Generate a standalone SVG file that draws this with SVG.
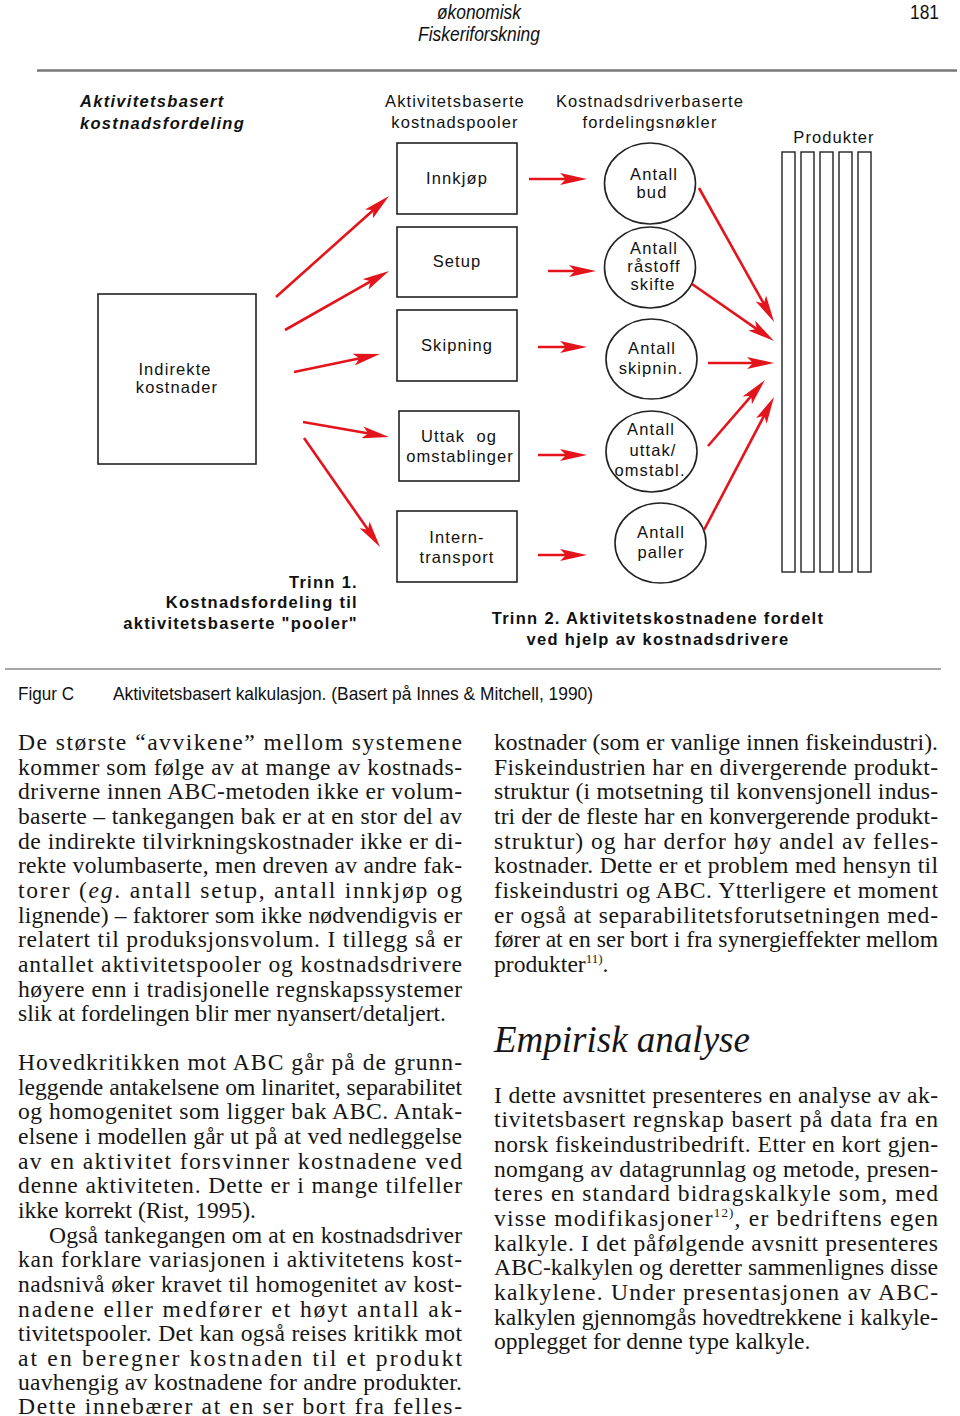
<svg xmlns="http://www.w3.org/2000/svg" width="960" height="1416" viewBox="0 0 960 1416">
<style>
.hdr{font-family:"Liberation Sans",Arial,sans-serif;font-size:20px;fill:#111}
.lbl{font-family:"Liberation Sans",Arial,sans-serif;font-size:16.5px;letter-spacing:1.1px;fill:#111}
.bld{font-family:"Liberation Sans",Arial,sans-serif;font-size:16.5px;font-weight:bold;letter-spacing:1.3px;fill:#111}
.cap{font-family:"Liberation Sans",Arial,sans-serif;font-size:19px;fill:#111}
.body{font-family:"Liberation Serif","Times New Roman",serif;font-size:23.6px;fill:#161616}
.box{fill:#fff;stroke:#222;stroke-width:1.6}
.bar{fill:#fff;stroke:#222;stroke-width:1.4}
.arr{stroke:#e3141b;stroke-width:2.6;fill:none;marker-end:url(#ah)}
.sup{font-size:13px}
</style>
<defs>
<marker id="ah" markerUnits="userSpaceOnUse" viewBox="0 0 27 12" markerWidth="27" markerHeight="12" refX="14" refY="6" orient="auto">
<path d="M0,0 L27,6 L0,12 L6,6 z" fill="#e3141b"/>
</marker>
</defs>
<rect width="960" height="1416" fill="#fff"/>

<g id="header">
<text class="hdr" x="479" y="19" text-anchor="middle" font-style="italic" textLength="84" lengthAdjust="spacingAndGlyphs">økonomisk</text>
<text class="hdr" x="479" y="41" text-anchor="middle" font-style="italic" textLength="122" lengthAdjust="spacingAndGlyphs">Fiskeriforskning</text>
<text class="hdr" x="910" y="19" textLength="29" lengthAdjust="spacingAndGlyphs">181</text>
<line x1="37" y1="70.5" x2="957" y2="70.5" stroke="#777" stroke-width="2.5"/>
</g>

<g id="titles">
<text class="bld" x="80" y="107" font-style="italic">Aktivitetsbasert</text>
<text class="bld" x="80" y="129" font-style="italic">kostnadsfordeling</text>
<text class="lbl" x="455" y="107" text-anchor="middle">Aktivitetsbaserte</text>
<text class="lbl" x="455" y="128" text-anchor="middle">kostnadspooler</text>
<text class="lbl" x="650" y="107" text-anchor="middle">Kostnadsdriverbaserte</text>
<text class="lbl" x="650" y="128" text-anchor="middle">fordelingsnøkler</text>
<text class="lbl" x="834" y="143" text-anchor="middle">Produkter</text>
</g>

<g id="indirekte">
<rect class="box" x="98" y="294" width="158" height="170"/>
<text class="lbl" x="175" y="375" text-anchor="middle">Indirekte</text>
<text class="lbl" x="177" y="393" text-anchor="middle">kostnader</text>
</g>

<g id="innkjop">
<rect class="box" x="397" y="143" width="120" height="71"/>
<text class="lbl" x="457" y="184" text-anchor="middle">Innkjøp</text>
</g>
<g id="setup">
<rect class="box" x="397" y="227" width="120" height="70"/>
<text class="lbl" x="457" y="267" text-anchor="middle">Setup</text>
</g>
<g id="skipning">
<rect class="box" x="397" y="310" width="120" height="71"/>
<text class="lbl" x="457" y="351" text-anchor="middle">Skipning</text>
</g>
<g id="uttak">
<rect class="box" x="399" y="411" width="120" height="70"/>
<text class="lbl" x="459" y="442" text-anchor="middle" xml:space="preserve">Uttak  og</text>
<text class="lbl" x="460" y="462" text-anchor="middle">omstablinger</text>
</g>
<g id="interntransport">
<rect class="box" x="397" y="511" width="120" height="71"/>
<text class="lbl" x="457" y="543" text-anchor="middle">Intern-</text>
<text class="lbl" x="457" y="563" text-anchor="middle">transport</text>
</g>

<g id="antall-bud">
<ellipse class="box" cx="650" cy="183.5" rx="45.5" ry="40.5"/>
<text class="lbl" x="654" y="180" text-anchor="middle">Antall</text>
<text class="lbl" x="652" y="198" text-anchor="middle">bud</text>
</g>
<g id="antall-rastoff">
<ellipse class="box" cx="650" cy="267.5" rx="45.5" ry="40.5"/>
<text class="lbl" x="654" y="254" text-anchor="middle">Antall</text>
<text class="lbl" x="654" y="272" text-anchor="middle">råstoff</text>
<text class="lbl" x="653" y="290" text-anchor="middle">skifte</text>
</g>
<g id="antall-skipnin">
<ellipse class="box" cx="651.5" cy="359" rx="45.5" ry="40"/>
<text class="lbl" x="652" y="354" text-anchor="middle">Antall</text>
<text class="lbl" x="651" y="374" text-anchor="middle">skipnin.</text>
</g>
<g id="antall-uttak">
<ellipse class="box" cx="651.5" cy="451.5" rx="45.5" ry="40.5"/>
<text class="lbl" x="651" y="435" text-anchor="middle">Antall</text>
<text class="lbl" x="653" y="456" text-anchor="middle">uttak/</text>
<text class="lbl" x="650" y="476" text-anchor="middle">omstabl.</text>
</g>
<g id="antall-paller">
<ellipse class="box" cx="660.5" cy="543" rx="45.5" ry="40"/>
<text class="lbl" x="661" y="538" text-anchor="middle">Antall</text>
<text class="lbl" x="661" y="558" text-anchor="middle">paller</text>
</g>

<g id="produkter">
<rect class="bar" x="782" y="152" width="13" height="420"/>
<rect class="bar" x="801" y="152" width="13" height="420"/>
<rect class="bar" x="820" y="152" width="13" height="420"/>
<rect class="bar" x="839" y="152" width="13" height="420"/>
<rect class="bar" x="858" y="152" width="13" height="420"/>
</g>

<g id="connectors">
<line class="arr" x1="276" y1="297" x2="379.3" y2="204.7"/>
<line class="arr" x1="285" y1="330" x2="377.7" y2="277.4"/>
<line class="arr" x1="294" y1="372" x2="367.3" y2="356.7"/>
<line class="arr" x1="303" y1="422" x2="376.2" y2="434.8"/>
<line class="arr" x1="304" y1="438" x2="372.6" y2="536.3"/>
<line class="arr" x1="529" y1="179" x2="574" y2="179"/>
<line class="arr" x1="548" y1="271" x2="583" y2="271"/>
<line class="arr" x1="538" y1="347" x2="574" y2="347"/>
<line class="arr" x1="538" y1="455" x2="574" y2="455"/>
<line class="arr" x1="538" y1="555" x2="574" y2="555"/>
<line class="arr" x1="699" y1="188" x2="767.7" y2="310.7"/>
<line class="arr" x1="692" y1="284" x2="763.3" y2="333.6"/>
<line class="arr" x1="708" y1="363" x2="761" y2="363"/>
<line class="arr" x1="708" y1="446" x2="756.5" y2="389.8"/>
<line class="arr" x1="704" y1="530" x2="767.9" y2="408.5"/>
</g>

<g id="trinn1">
<text class="bld" x="358" y="588" text-anchor="end">Trinn 1.</text>
<text class="bld" x="358" y="608" text-anchor="end">Kostnadsfordeling til</text>
<text class="bld" x="358" y="629" text-anchor="end">aktivitetsbaserte "pooler"</text>
</g>
<g id="trinn2">
<text class="bld" x="658" y="624" text-anchor="middle">Trinn 2. Aktivitetskostnadene fordelt</text>
<text class="bld" x="658" y="645" text-anchor="middle">ved hjelp av kostnadsdrivere</text>
</g>

<line x1="5" y1="669" x2="941" y2="669" stroke="#888" stroke-width="1.5"/>

<g id="caption">
<text class="cap" x="18" y="700" textLength="56" lengthAdjust="spacingAndGlyphs">Figur C</text>
<text class="cap" x="113" y="700" textLength="480" lengthAdjust="spacingAndGlyphs">Aktivitetsbasert kalkulasjon. (Basert på Innes &amp; Mitchell, 1990)</text>
</g>

<g id="left-column" class="body">
<text x="18" y="750" textLength="444" lengthAdjust="spacing">De største “avvikene” mellom systemene</text>
<text x="18" y="775" textLength="444" lengthAdjust="spacing">kommer som følge av at mange av kostnads-</text>
<text x="18" y="799" textLength="444" lengthAdjust="spacing">driverne innen ABC-metoden ikke er volum-</text>
<text x="18" y="824" textLength="444" lengthAdjust="spacing">baserte – tankegangen bak er at en stor del av</text>
<text x="18" y="849" textLength="444" lengthAdjust="spacing">de indirekte tilvirkningskostnader ikke er di-</text>
<text x="18" y="873" textLength="444" lengthAdjust="spacing">rekte volumbaserte, men dreven av andre fak-</text>
<text x="18" y="898" textLength="444" lengthAdjust="spacing">torer (<tspan font-style="italic">eg</tspan>. antall setup, antall innkjøp og</text>
<text x="18" y="923" textLength="444" lengthAdjust="spacing">lignende) – faktorer som ikke nødvendigvis er</text>
<text x="18" y="947" textLength="444" lengthAdjust="spacing">relatert til produksjonsvolum. I tillegg så er</text>
<text x="18" y="972" textLength="444" lengthAdjust="spacing">antallet aktivitetspooler og kostnadsdrivere</text>
<text x="18" y="997" textLength="444" lengthAdjust="spacing">høyere enn i tradisjonelle regnskapssystemer</text>
<text x="18" y="1021" textLength="428" lengthAdjust="spacing">slik at fordelingen blir mer nyansert/detaljert.</text>

<text x="18" y="1070" textLength="444" lengthAdjust="spacing">Hovedkritikken mot ABC går på de grunn-</text>
<text x="18" y="1095" textLength="444" lengthAdjust="spacing">leggende antakelsene om linaritet, separabilitet</text>
<text x="18" y="1119" textLength="444" lengthAdjust="spacing">og homogenitet som ligger bak ABC. Antak-</text>
<text x="18" y="1144" textLength="444" lengthAdjust="spacing">elsene i modellen går ut på at ved nedleggelse</text>
<text x="18" y="1169" textLength="444" lengthAdjust="spacing">av en aktivitet forsvinner kostnadene ved</text>
<text x="18" y="1193" textLength="444" lengthAdjust="spacing">denne aktiviteten. Dette er i mange tilfeller</text>
<text x="18" y="1218" textLength="238" lengthAdjust="spacing">ikke korrekt (Rist, 1995).</text>
<text x="49" y="1243" textLength="413" lengthAdjust="spacing">Også tankegangen om at en kostnadsdriver</text>
<text x="18" y="1267" textLength="444" lengthAdjust="spacing">kan forklare variasjonen i aktivitetens kost-</text>
<text x="18" y="1292" textLength="444" lengthAdjust="spacing">nadsnivå øker kravet til homogenitet av kost-</text>
<text x="18" y="1317" textLength="444" lengthAdjust="spacing">nadene eller medfører et høyt antall ak-</text>
<text x="18" y="1341" textLength="444" lengthAdjust="spacing">tivitetspooler. Det kan også reises kritikk mot</text>
<text x="18" y="1366" textLength="444" lengthAdjust="spacing">at en beregner kostnaden til et produkt</text>
<text x="18" y="1390" textLength="444" lengthAdjust="spacing">uavhengig av kostnadene for andre produkter.</text>
<text x="18" y="1414" textLength="444" lengthAdjust="spacing">Dette innebærer at en ser bort fra felles-</text>
</g>

<g id="right-column" class="body">
<text x="494" y="750" textLength="444" lengthAdjust="spacing">kostnader (som er vanlige innen fiskeindustri).</text>
<text x="494" y="775" textLength="444" lengthAdjust="spacing">Fiskeindustrien har en divergerende produkt-</text>
<text x="494" y="799" textLength="444" lengthAdjust="spacing">struktur (i motsetning til konvensjonell indus-</text>
<text x="494" y="824" textLength="444" lengthAdjust="spacing">tri der de fleste har en konvergerende produkt-</text>
<text x="494" y="849" textLength="444" lengthAdjust="spacing">struktur) og har derfor høy andel av felles-</text>
<text x="494" y="873" textLength="444" lengthAdjust="spacing">kostnader. Dette er et problem med hensyn til</text>
<text x="494" y="898" textLength="444" lengthAdjust="spacing">fiskeindustri og ABC. Ytterligere et moment</text>
<text x="494" y="923" textLength="444" lengthAdjust="spacing">er også at separabilitetsforutsetningen med-</text>
<text x="494" y="947" textLength="444" lengthAdjust="spacing">fører at en ser bort i fra synergieffekter mellom</text>
<text x="494" y="972">produkter<tspan class="sup" dy="-9">11)</tspan><tspan dy="9">.</tspan></text>

<text x="494" y="1052" font-size="37" font-style="italic">Empirisk analyse</text>

<text x="494" y="1103" textLength="444" lengthAdjust="spacing">I dette avsnittet presenteres en analyse av ak-</text>
<text x="494" y="1127" textLength="444" lengthAdjust="spacing">tivitetsbasert regnskap basert på data fra en</text>
<text x="494" y="1152" textLength="444" lengthAdjust="spacing">norsk fiskeindustribedrift. Etter en kort gjen-</text>
<text x="494" y="1177" textLength="444" lengthAdjust="spacing">nomgang av datagrunnlag og metode, presen-</text>
<text x="494" y="1201" textLength="444" lengthAdjust="spacing">teres en standard bidragskalkyle som, med</text>
<text x="494" y="1226" textLength="444" lengthAdjust="spacing">visse modifikasjoner<tspan class="sup" dy="-9">12)</tspan><tspan dy="9">, er bedriftens egen</tspan></text>
<text x="494" y="1251" textLength="444" lengthAdjust="spacing">kalkyle. I det påfølgende avsnitt presenteres</text>
<text x="494" y="1275" textLength="444" lengthAdjust="spacing">ABC-kalkylen og deretter sammenlignes disse</text>
<text x="494" y="1300" textLength="444" lengthAdjust="spacing">kalkylene. Under presentasjonen av ABC-</text>
<text x="494" y="1325" textLength="444" lengthAdjust="spacing">kalkylen gjennomgås hovedtrekkene i kalkyle-</text>
<text x="494" y="1349">opplegget for denne type kalkyle.</text>
</g>
</svg>
